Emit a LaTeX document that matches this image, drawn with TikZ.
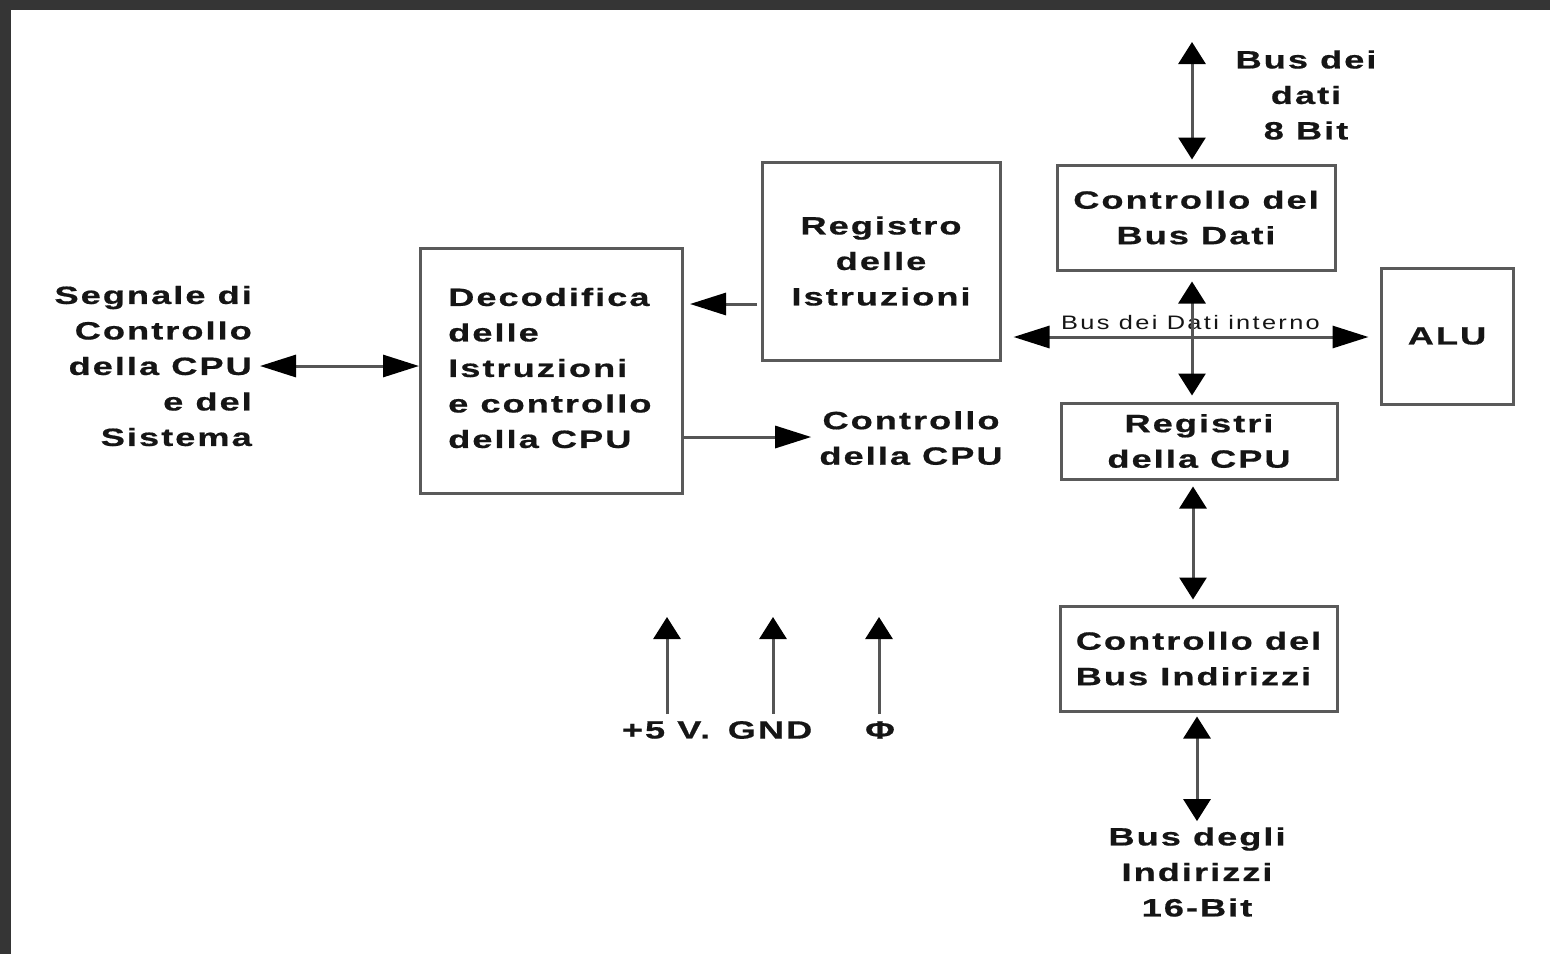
\documentclass[tikz,border=0pt]{standalone}
\usepackage{fontspec}
\setmainfont{Liberation Sans}
\newfontfamily\lblfont[FakeStretch=1.45,LetterSpace=8,FakeBold=0.6]{Liberation Sans}
\newfontfamily\smlfont[FakeStretch=1.3,LetterSpace=12]{Liberation Sans}
\usetikzlibrary{arrows.meta,calc}
\definecolor{framec}{HTML}{353535}
\definecolor{boxgray}{HTML}{5A5A5A}
\definecolor{linegray}{HTML}{555555}
\definecolor{txt}{HTML}{151515}
\tikzset{
  box/.style={draw=boxgray, line width=3pt, inner sep=0pt, font=\lblfont\bfseries\fontsize{25}{35.5}\selectfont, text=txt, align=center},
  lbl/.style={font=\lblfont\bfseries\fontsize{25}{35.5}\selectfont, text=txt, inner sep=0pt},
  small/.style={font=\smlfont\fontsize{19.5}{22}\selectfont, text=txt, inner sep=0pt},
  htip/.tip={Triangle[length=36pt,width=22pt,color=black]},
  vtip/.tip={Triangle[length=22pt,width=27pt,color=black]},
  conn/.style={draw=linegray, line width=3pt},
}
\begin{document}
\begin{tikzpicture}[x=1pt,y=-1pt]
\useasboundingbox (0,0) rectangle (1550,954);
\fill[white] (0,0) rectangle (1550,954);
\fill[framec] (0,0) rectangle (1550,10);
\fill[framec] (0,0) rectangle (11,954);

% boxes
\node[box, minimum width=262, minimum height=245] (dec) at (551.5,370.5) {};
\node[lbl, align=left, anchor=west] (dect) at (448,368) {Decodifica\\delle\\Istruzioni\\e controllo\\della CPU};
\node[box, minimum width=238, minimum height=198] (reg) at (881,261) {Registro\\delle\\Istruzioni};
\node[box, minimum width=278, minimum height=105] (cbd) at (1196,217.5) {Controllo del\\Bus Dati};
\node[box, minimum width=132, minimum height=136] (alu) at (1447,336) {ALU};
\node[box, minimum width=276, minimum height=76] (regs) at (1199,441) {Registri\\della CPU};
\node[box, minimum width=277, minimum height=105, align=left] (cbi) at (1198.5,658.5) {Controllo del\\Bus Indirizzi};

% free labels
\node[lbl, align=right, anchor=east] (seg) at (252,366) {Segnale di\\Controllo\\della CPU\\e del\\Sistema};
\node[lbl, align=center] (ctl) at (911,438) {Controllo\\della CPU};
\node[lbl, align=center] (bdd) at (1306,95) {Bus dei\\dati\\8 Bit};
\node[lbl, align=center] (bdi) at (1197,872) {Bus degli\\Indirizzi\\16-Bit};
\node[lbl] (v5) at (666,730) {+5 V.};
\node[lbl] (gnd) at (770,730) {GND};
\node[lbl] (phi) at (880,730) {Φ};

% coordinates for free ends
\coordinate (dtop) at (1192,42);
\coordinate (p1) at (667,617);
\coordinate (p2) at (773,617);
\coordinate (p3) at (879,617);
\coordinate (busM) at (1192,337);
\coordinate (rdy) at (757,304);
\coordinate (cdy) at (683,437);
\coordinate (rcx) at (1193,0);

% connectors
\draw[conn, {htip}-{htip}] ([xshift=8pt]seg.east) -- (dec.west |- seg.east);
\draw[conn, -{htip}, shorten >=6pt] (rdy) -- (dec.east |- rdy);
\draw[conn, -{htip}, shorten >=8pt] (cdy) -- (ctl.west |- cdy);
\draw[conn, {htip}-{htip}, shorten <=12pt, shorten >=11pt] (reg.east |- busM) -- (alu.west |- busM)
  node[small, midway, above=6pt] (bdil) {Bus dei Dati interno};
\draw[conn, -{vtip}, shorten >=10pt] (busM) -- (busM |- cbd.south);
\draw[conn, -{vtip}, shorten >=6pt] (busM) -- (busM |- regs.north);
\draw[conn, {vtip}-{vtip}, shorten >=4pt] (dtop) -- (dtop |- cbd.north);
\draw[conn, {vtip}-{vtip}, shorten <=6pt, shorten >=5pt] (rcx |- regs.south) -- (rcx |- cbi.north);
\draw[conn, {vtip}-{vtip}, shorten <=4pt, shorten >=6pt] (cbi.south -| bdi.north) -- (bdi.north);
\draw[conn, -{vtip}, shorten <=7pt] (p1 |- v5.north) -- (p1);
\draw[conn, -{vtip}, shorten <=7pt] (p2 |- gnd.north) -- (p2);
\draw[conn, -{vtip}, shorten <=7pt] (p3 |- phi.north) -- (p3);
\end{tikzpicture}
\end{document}
